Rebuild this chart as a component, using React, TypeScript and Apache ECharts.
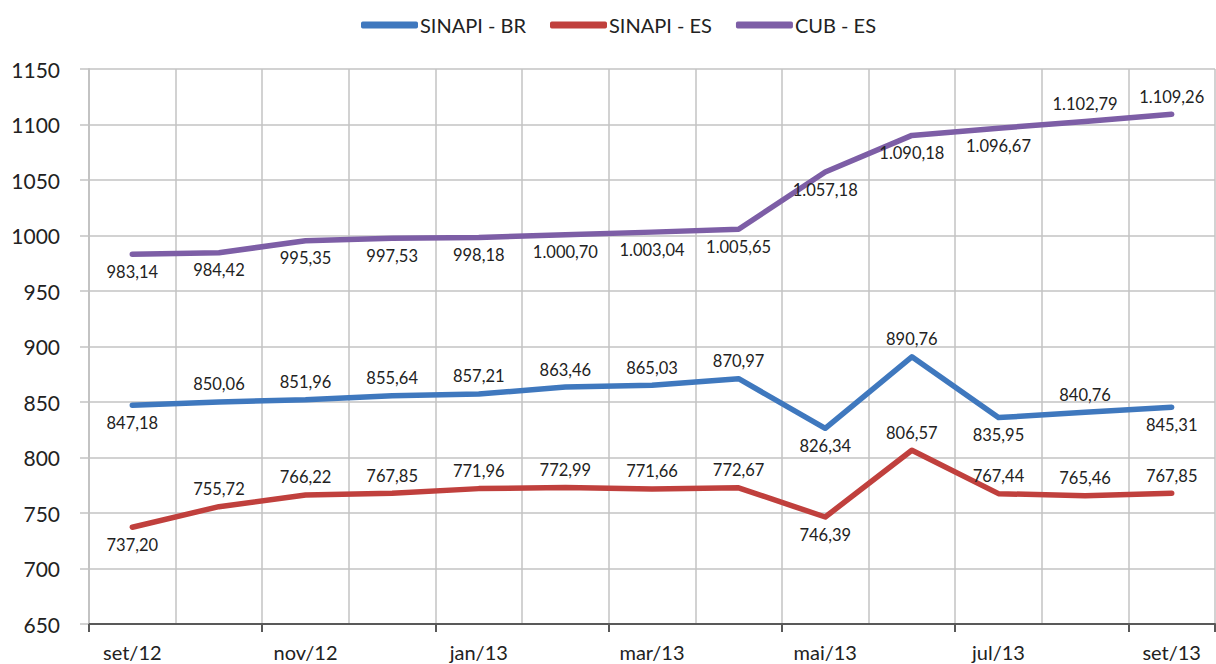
import React, { useEffect, useRef } from "react";
import * as echarts from "echarts";

const categories = ["set/12", "out/12", "nov/12", "dez/12", "jan/13", "fev/13", "mar/13", "abr/13", "mai/13", "jun/13", "jul/13", "ago/13", "set/13"];
const sinapiBR = [847.18, 850.06, 851.96, 855.64, 857.21, 863.46, 865.03, 870.97, 826.34, 890.76, 835.95, 840.76, 845.31];
const sinapiES = [737.2, 755.72, 766.22, 767.85, 771.96, 772.99, 771.66, 772.67, 746.39, 806.57, 767.44, 765.46, 767.85];
const cubES = [983.14, 984.42, 995.35, 997.53, 998.18, 1000.7, 1003.04, 1005.65, 1057.18, 1090.18, 1096.67, 1102.79, 1109.26];

const placeBR = ["bottom", "top", "top", "top", "top", "top", "top", "top", "bottom", "top", "bottom", "top", "bottom"];
const placeES = ["bottom", "top", "top", "top", "top", "top", "top", "top", "bottom", "top", "top", "top", "top"];
const placeCUB = ["bottom", "bottom", "bottom", "bottom", "bottom", "bottom", "bottom", "bottom", "bottom", "bottom", "bottom", "top", "top"];

const FONT = "Lato";

function fmt(v: number): string {
  const [i, d] = v.toFixed(2).split(".");
  const withDots = i.replace(/\B(?=(\d{3})+(?!\d))/g, ".");
  return withDots + "," + d;
}

function makeSeries(name: string, values: number[], places: string[], color: string) {
  return {
    name,
    type: "line",
    data: values.map((v, i) => ({
      value: v,
      label: { position: places[i] },
    })),
    showSymbol: true,
    symbol: "circle",
    symbolSize: 0.01,
    lineStyle: { color, width: 5.5, cap: "round", join: "round" },
    itemStyle: { color },
    label: {
      show: true,
      formatter: (p: any) => fmt(p.value),
      fontFamily: FONT,
      fontSize: 16.5,
      color: "#222222",
      distance: 9,
    },
  };
}

export default function App() {
  const ref = useRef<HTMLDivElement>(null);
  useEffect(() => {
    const chart = echarts.init(ref.current!, null, { renderer: "svg" });
    chart.setOption({
      animation: false,
      backgroundColor: "#ffffff",
      legend: {
        top: 10,
        left: 356,
        icon: "roundRect",
        itemWidth: 57,
        itemHeight: 7,
        itemGap: 24,
        textStyle: { fontFamily: FONT, fontSize: 20, color: "#222222", padding: [0, 0, 0, -3] },
        data: ["SINAPI - BR", "SINAPI - ES", "CUB - ES"],
      },
      grid: { left: 89, right: 1, top: 69, bottom: 40, containLabel: false },
      xAxis: {
        type: "category",
        data: categories,
        boundaryGap: true,
        axisLine: { show: true, lineStyle: { color: "#595959", width: 2 } },
        axisTick: { show: true, interval: 1, length: 8, lineStyle: { color: "#595959", width: 2 } },
        axisLabel: { interval: 1, fontFamily: FONT, fontSize: 20, color: "#222222", margin: 18 },
        splitLine: { show: true, interval: 0, lineStyle: { color: "#c3c3c3", width: 1.5 } },
      },
      yAxis: {
        type: "value",
        min: 650,
        max: 1150,
        interval: 50,
        axisLine: { show: true, lineStyle: { color: "#c3c3c3", width: 2 } },
        axisTick: { show: true, length: 9, lineStyle: { color: "#c3c3c3", width: 1.5 } },
        axisLabel: { fontFamily: FONT, fontSize: 21, color: "#222222", margin: 29, formatter: (v: number) => String(v) },
        splitLine: { show: true, lineStyle: { color: "#c3c3c3", width: 1.5 } },
      },
      series: [
        makeSeries("SINAPI - BR", sinapiBR, placeBR, "#3f78be"),
        makeSeries("SINAPI - ES", sinapiES, placeES, "#c0403d"),
        makeSeries("CUB - ES", cubES, placeCUB, "#7d5ea6"),
      ],
    });
    return () => chart.dispose();
  }, []);
  return (
    <div
      ref={ref}
      style={{ position: "absolute", left: 0, top: 0, width: 1216, height: 664 }}
    />
  );
}
